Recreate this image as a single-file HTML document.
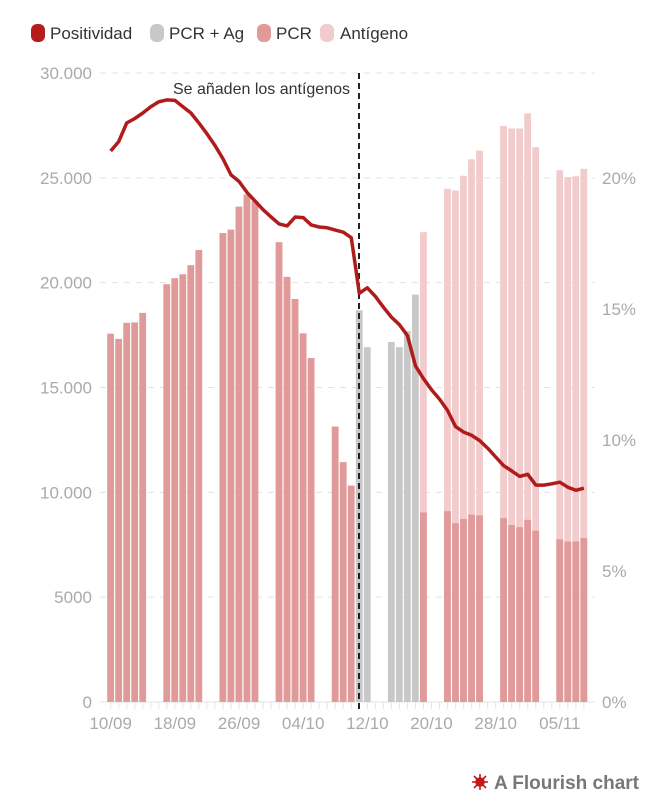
<!DOCTYPE html>
<html><head><meta charset="utf-8"><style>
body{margin:0;background:#fff;width:672px;height:800px;overflow:hidden;font-family:"Liberation Sans",sans-serif}
</style></head><body>
<svg id="chart" width="672" height="800" xmlns="http://www.w3.org/2000/svg" font-family="Liberation Sans, sans-serif">
<g font-size="17" fill="#333">
 <g><rect x="31" y="24" width="14" height="18" rx="6" fill="#b51d1d"/><text x="50" y="39">Positividad</text></g>
 <g><rect x="150" y="24" width="14" height="18" rx="6" fill="#c8c8c8"/><text x="169" y="39">PCR + Ag</text></g>
 <g><rect x="257" y="24" width="14" height="18" rx="6" fill="#e09a9a"/><text x="276" y="39">PCR</text></g>
 <g><rect x="320" y="24" width="14" height="18" rx="6" fill="#f2cccc"/><text x="340" y="39">Antígeno</text></g>
</g>
<g id="grid"></g>
<g id="bars"></g>
<g id="axes"></g>
<line x1="359" y1="73" x2="359" y2="712" stroke="#222" stroke-width="2" stroke-dasharray="6,4"/>
<text x="350" y="94" text-anchor="end" font-size="16" fill="#333">Se añaden los antígenos</text>
<path id="line" fill="none" stroke="#b01c1c" stroke-width="3.5" stroke-linejoin="round"/>
<g>
 <g transform="translate(480,782)" stroke="#c41a1a" stroke-width="1.6"><line x1="-8" y1="0" x2="8" y2="0"/><line x1="0" y1="-8" x2="0" y2="8"/><line x1="-6" y1="-6" x2="6" y2="6"/><line x1="-6" y1="6" x2="6" y2="-6"/><circle r="4" fill="#c41a1a"/></g>
 <text x="494" y="789" font-size="19" font-weight="bold" fill="#777">A Flourish chart</text>
</g>
</svg>
<script>
const days=[0,1,2,3,4,7,8,9,10,11,14,15,16,17,18,21,22,23,24,25,28,29,30,31,32,35,36,37,38,39,42,43,44,45,46,49,50,51,52,53,56,57,58,59];
const pcr=[17566,17318,18083,18104,18559,19925,20214,20400,20835,21559,22366,22531,23628,24207,23897,21931,20276,19221,17586,16407,13138,11442,10324,0,0,0,0,0,0,9041,9104,8524,8731,8938,8897,8772,8442,8338,8690,8173,7759,7655,7655,7821];
const pcrAg=[0,0,0,0,0,0,0,0,0,0,0,0,0,0,0,0,0,0,0,0,0,0,0,18683,16924,17172,16924,17690,19428,0,0,0,0,0,0,0,0,0,0,0,0,0,0,0];
const totals=[0,0,0,0,0,0,0,0,0,0,0,0,0,0,0,0,0,0,0,0,0,0,0,0,0,0,0,0,0,22407,24476,24393,25097,25883,26297,27476,27352,27352,28076,26462,25366,25035,25076,25428];
const positividad=[21.03,21.39,22.1,22.27,22.48,22.72,22.91,22.98,22.96,22.72,22.48,22.1,21.69,21.24,20.73,20.12,19.87,19.45,19.12,18.79,18.51,18.25,18.17,18.51,18.49,18.21,18.13,18.1,18.01,17.93,17.72,15.6,15.81,15.48,15.07,14.69,14.4,13.99,12.83,12.34,11.92,11.56,11.13,10.51,10.3,10.18,9.98,9.69,9.35,9.02,8.82,8.61,8.69,8.28,8.28,8.33,8.39,8.2,8.08,8.16];
const leftTicks=[0,5000,10000,15000,20000,25000,30000];
const leftLabels=["0","5000","10.000","15.000","20.000","25.000","30.000"];
const rightTicks=[0,5,10,15,20];
const xTickDays=[0,8,16,24,32,40,48,56];
const xLabels=["10/09","18/09","26/09","04/10","12/10","20/10","28/10","05/11"];
const NS="http://www.w3.org/2000/svg";
const X0=106.7,SLOT=8.02,Y0=702,YT=73;
const xs=d=>X0+SLOT*d;
const yL=v=>Y0-(v/30000)*(Y0-YT);
const yR=p=>Y0-(p/20)*(Y0-178);
function mk(tag,attrs,parent){const e=document.createElementNS(NS,tag);for(const k in attrs)e.setAttribute(k,attrs[k]);parent.appendChild(e);return e;}
const grid=document.getElementById('grid'),bars=document.getElementById('bars'),axes=document.getElementById('axes');
leftTicks.forEach((v,i)=>{
 const l=mk('line',{x1:100,x2:595,y1:yL(v),y2:yL(v),stroke:'#e3e3e3','stroke-width':1,'stroke-dasharray':i?'6,6':'none'},grid);
 
 
 const t=mk('text',{x:92,y:yL(v)+6,'text-anchor':'end','font-size':17,fill:'#aaa'},axes);
 t.textContent=leftLabels[i];
 
 
});
rightTicks.forEach(p=>{
 const t=mk('text',{x:602,y:yR(p)+6,'font-size':17,fill:'#aaa'},axes);
 t.textContent=p+'%';
 
 
});
for(let d=0;d<60;d++){
 const tk=mk('line',{x1:xs(d)+4,x2:xs(d)+4,y1:702,y2:709,stroke:'#e6e6e6','stroke-width':1},axes);
 
 
}
xTickDays.forEach((d,i)=>{
 const t=mk('text',{x:xs(d)+4,y:729,'text-anchor':'middle','font-size':17,fill:'#aaa'},axes);
 t.textContent=xLabels[i];
 
 
});
days.forEach((d,i)=>{
 const x=xs(d)+0.5,w=SLOT-1.2;
 if(totals[i]>0){
  const a=mk('rect',{x:x,y:yL(totals[i]),width:w,height:Y0-yL(totals[i]),fill:'#f2cccc'},bars);
  
  
 }
 if(pcrAg[i]>0){
  const g=mk('rect',{x:x,y:yL(pcrAg[i]),width:w,height:Y0-yL(pcrAg[i]),fill:'#c8c8c8'},bars);
  
  
 }
 if(pcr[i]>0){
  const r=mk('rect',{x:x,y:yL(pcr[i]),width:w,height:Y0-yL(pcr[i]),fill:'#e09a9a'},bars);
  
  
 }
});
document.getElementById('line').setAttribute('d',positividad.map((p,d)=>(d?'L':'M')+(xs(d)+4).toFixed(1)+','+yR(p).toFixed(1)).join(''));
</script>
</body></html>
